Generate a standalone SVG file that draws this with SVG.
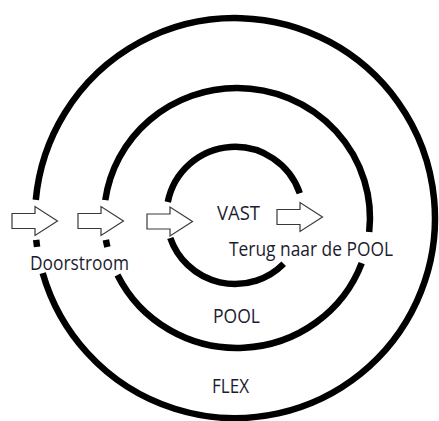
<svg xmlns="http://www.w3.org/2000/svg" xmlns:xlink="http://www.w3.org/1999/xlink" width="439" height="421" viewBox="0 0 439 421">
  <style>
    .ring { fill: none; stroke: #000; stroke-width: 6.5; stroke-linecap: butt; }
    .flow { fill: #fff; stroke: #3a3a3a; stroke-width: 1.2; stroke-linejoin: miter; }
    .label { font-family: "Open Sans", "Liberation Sans", sans-serif; font-size: 19.5px; fill: #1c1c30; }
  </style>
  <defs>
    <!-- block arrow, left end of shaft at the origin, pointing right -->
    <path id="blockArrow" d="M0,-7.5 H23 V-14.5 L45.5,0 L23,14.5 V7.5 H0 Z"/>
  </defs>

  <rect width="439" height="421" fill="#fff"/>

  <!-- outer ring: FLEX -->
  <g id="flex">
    <path class="ring" d="M35.8,199.9 A200,200 0 1 1 42.7,273.1"/>
    <path class="ring" d="M36.2,239.9 A200,200 0 0 0 37.1,246.9"/>
    <text class="label" x="212" y="393" textLength="37" lengthAdjust="spacingAndGlyphs">FLEX</text>
  </g>

  <!-- middle ring: POOL -->
  <g id="pool">
    <path class="ring" d="M361.7,263.1 A133,130 0 0 1 117.5,275"/>
    <path class="ring" d="M105.3,200.1 A133,130 0 0 1 237,88 A133,130 0 0 1 369.2,232"/>
    <path class="ring" d="M105.9,239.9 A133,130 0 0 0 107.4,247"/>
    <text class="label" x="213" y="323" textLength="47" lengthAdjust="spacingAndGlyphs">POOL</text>
  </g>

  <!-- inner ring: VAST -->
  <g id="vast">
    <path class="ring" d="M283.7,263.7 A68.5,68.5 0 0 1 170.3,238"/>
    <path class="ring" d="M167.8,202 A68.5,68.5 0 0 1 299.8,193.2"/>
    <text class="label" x="217" y="220" textLength="43" lengthAdjust="spacingAndGlyphs">VAST</text>
  </g>

  <!-- flow arrows -->
  <g id="connectors">
    <use class="flow" xlink:href="#blockArrow" href="#blockArrow" transform="translate(12,221)"/>
    <use class="flow" xlink:href="#blockArrow" href="#blockArrow" transform="translate(78,221)"/>
    <use class="flow" xlink:href="#blockArrow" href="#blockArrow" transform="translate(147,221.5)"/>
    <use class="flow" xlink:href="#blockArrow" href="#blockArrow" transform="translate(277,217)"/>
  </g>

  <!-- flow labels -->
  <g id="flow-labels">
    <text id="doorstroom" class="label" x="30" y="270" textLength="99" lengthAdjust="spacingAndGlyphs">Doorstroom</text>
    <text id="terug" class="label" x="229" y="256" textLength="164" lengthAdjust="spacingAndGlyphs">Terug naar de POOL</text>
  </g>
</svg>
